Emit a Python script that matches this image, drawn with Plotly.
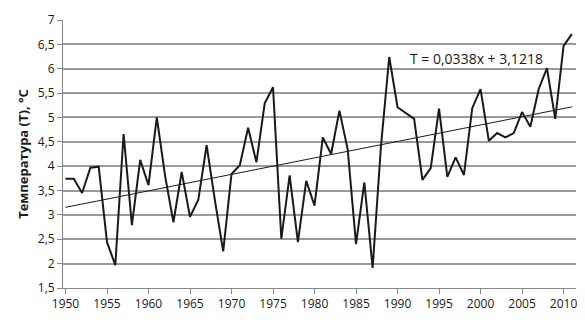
import plotly.graph_objects as go

years = list(range(1950, 2012))
temps = [3.74, 3.74, 3.45, 3.97, 3.99, 2.44, 1.97, 4.66, 2.79, 4.13,
         3.61, 5.00, 3.80, 2.85, 3.88, 2.96, 3.31, 4.43, 3.30, 2.25,
         3.84, 4.02, 4.79, 4.08, 5.29, 5.62, 2.51, 3.81, 2.44, 3.70,
         3.19, 4.59, 4.25, 5.14, 4.34, 2.40, 3.67, 1.91, 4.40, 6.24,
         5.21, 5.09, 4.97, 3.72, 3.96, 5.18, 3.78, 4.18, 3.82, 5.19,
         5.58, 4.52, 4.68, 4.59, 4.68, 5.11, 4.81, 5.58, 6.01, 4.97,
         6.47, 6.71]
trend_slope = 0.0338
trend_intercept = 3.1218
trend_label = "T = 0,0338x + 3,1218"
x_ticks = list(range(1950, 2015, 5))
y_ticks = [1.5, 2, 2.5, 3, 3.5, 4, 4.5, 5, 5.5, 6, 6.5, 7]
y_tick_text = [("%g" % v).replace(".", ",") for v in y_ticks]

trend = [trend_slope * (i + 1) + trend_intercept for i in range(len(years))]

fig = go.Figure()
fig.add_trace(go.Scatter(x=years, y=temps, mode="lines",
                         line=dict(color="#1a1a1a", width=2), showlegend=False))
fig.add_trace(go.Scatter(x=[years[0], years[-1]], y=[trend[0], trend[-1]], mode="lines",
                         line=dict(color="#1a1a1a", width=1), showlegend=False))

fig.add_annotation(x=1999.5, y=6.22, text=trend_label, showarrow=False,
                   font=dict(family="Open Sans", size=14, color="#1a1a1a"))

font = dict(family="Open Sans", size=12, color="#1a1a1a")
fig.update_layout(
    template="none",
    width=577, height=318,
    margin=dict(l=55, r=9, t=12, b=38),
    paper_bgcolor="white", plot_bgcolor="white",
    xaxis=dict(range=[1949.7, 2011.5], tickmode="array", tickvals=x_ticks, ticks="outside",
               ticklen=5, tickcolor="#888888", showgrid=False, showline=True,
               linecolor="#888888", linewidth=1, tickfont=font, zeroline=False),
    yaxis=dict(range=[1.5, 7], tickmode="array", tickvals=y_ticks, ticktext=y_tick_text,
               ticks="outside", ticklen=5, tickcolor="#888888", showgrid=True,
               gridcolor="#9a9a9a", gridwidth=1.5, showline=True, linecolor="#888888",
               linewidth=1, tickfont=font, zeroline=False,
               title=dict(text="<b>Температура (T), °C</b>", standoff=6,
                          font=dict(family="Open Sans", size=13, color="#1a1a1a"))),
)

fig.write_html("out.html")
